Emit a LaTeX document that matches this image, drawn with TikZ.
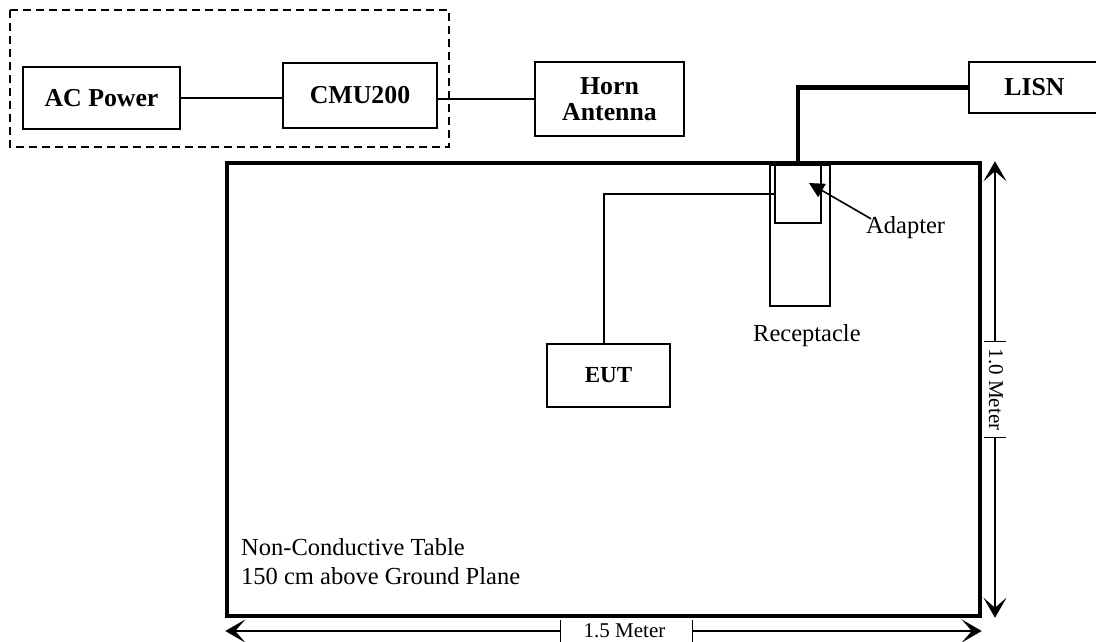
\documentclass[tikz,border=0pt]{standalone}
\usepackage{fontspec}
\setmainfont{Liberation Serif}
\usetikzlibrary{arrows.meta}

\begin{document}
\begin{tikzpicture}[x=1pt,y=-1pt,
  box/.style={draw,line width=1.6pt,inner sep=0pt,align=center,font=\fontsize{25.8}{26}\selectfont\bfseries},
  wire/.style={line width=1.6pt},
  power/.style={line width=4.3pt},
  txt/.style={inner sep=0pt,font=\fontsize{24.5}{29}\selectfont},
  dimtxt/.style={inner sep=0pt,font=\fontsize{21}{22}\selectfont},
  dimline/.style={line width=1.4pt,arrows={Bar[width=22pt]-Stealth[length=20pt,width=23pt,inset=10pt]}},
  pointer/.style={line width=1.6pt,-{Triangle[length=15pt,width=15pt]}}]
\useasboundingbox (0,0) rectangle (1096,641);
\draw[line width=1.6pt,dash pattern=on 8pt off 5pt] (10,10) rectangle (449,147);
\node[box,minimum width=157pt,minimum height=62pt] (acpower) at (101.5,98) {AC Power};
\node[box,minimum width=154pt,minimum height=65pt] (cmu) at (360,95.5) {CMU200};
\node[box,minimum width=149pt,minimum height=74pt] (horn) at (609.5,99) {Horn\\Antenna};
\node[box,minimum width=131pt,minimum height=51pt] (lisn) at (1034.5,87.5) {LISN};
\draw[wire] (acpower.east) -- (acpower.east -| cmu.west);
\draw[wire] (cmu.east |- horn.west) -- (horn.west);
\node[draw,line width=3.5pt,minimum width=753pt,minimum height=453pt] (tbl) at (603.5,389.5) {};
\node[draw,line width=1.6pt,minimum width=60pt,minimum height=141pt] (recep) at (800,235.5) {};
\node[draw,line width=1.6pt,minimum width=46pt,minimum height=58pt] (adapt) at (798,194) {};
\node[box,minimum width=123pt,minimum height=63pt,font=\fontsize{23}{25}\selectfont\bfseries] (eut) at (608.5,375.5) {EUT};
\draw[power] (lisn.west) -| (adapt.north);
\draw[wire] ([xshift=-4.5pt]eut.north) |- (adapt.west);
\node[txt,anchor=base west] (adaptlbl) at (866,233) {Adapter};
\coordinate (adtip) at (809,183);
\draw[pointer] ([xshift=5pt,yshift=-3pt]adaptlbl.north west) -- (adtip);
\node[txt,anchor=base west] (reclbl) at (753,341) {Receptacle};
\node[txt,anchor=base west] (tbl1) at (241,555) {Non-Conductive Table};
\node[txt,anchor=base west] (tbl2) at (241,584) {150 cm above Ground Plane};
\node[dimtxt] (wlbl) at (624.5,631) {1.5 Meter};
\coordinate (wl) at (561,631);
\coordinate (wr) at (692,631);
\draw[dimline] (wl) -- (wl -| tbl.west);
\draw[dimline] (wr) -- (wr -| tbl.east);
\node[dimtxt,rotate=-90] (hlbl) at (996,389.5) {1.0 Meter};
\coordinate (ht) at (995,342);
\coordinate (hb) at (995,437);
\draw[dimline] (ht) -- (ht |- tbl.north);
\draw[dimline] (hb) -- (hb |- tbl.south);
\end{tikzpicture}
\end{document}
